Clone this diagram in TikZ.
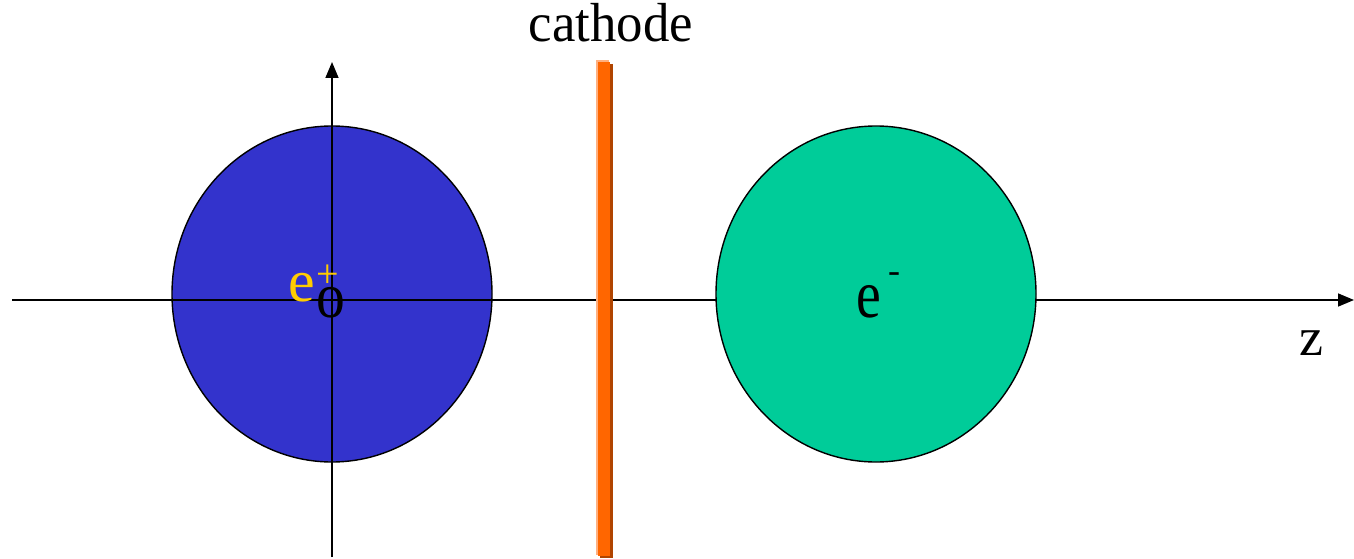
\documentclass[tikz,border=0pt]{standalone}
\usepackage{fontspec}
\setmainfont{Liberation Serif}
\usetikzlibrary{arrows.meta}
\definecolor{ballblue}{HTML}{3333CC}
\definecolor{ballgreen}{HTML}{00CC99}
\definecolor{cathorange}{HTML}{FF6600}
\definecolor{cathlight}{HTML}{FFB080}
\definecolor{cathdark}{HTML}{B04400}
\definecolor{posyellow}{HTML}{FFCC00}
\tikzset{
  axis/.style={line width=1.6pt,-{Triangle[length=16pt,width=13pt]}},
  ball/.style={draw=black,line width=1.4pt},
  big/.style={font=\fontsize{54}{60}\selectfont,inner sep=0pt}
}
\begin{document}
\begin{tikzpicture}[x=1pt,y=-1pt]
\useasboundingbox (0,0) rectangle (1354,559);
% blue ball (under axes)
\filldraw[ball,fill=ballblue] (332,294) ellipse[x radius=160,y radius=168];
\coordinate (hl) at (12,300);
\coordinate (hr) at (1354,300);
\coordinate (vb) at (332,557);
\coordinate (vt) at (332,62);
\draw[axis] (hl) -- (hr);
\draw[axis] (vb) -- (vt);
% green ball (over axis)
\filldraw[ball,fill=ballgreen] (876,294) ellipse[x radius=160,y radius=168];
% cathode
\fill[cathlight] (596,60) rectangle (609,555);
\fill[cathdark] (600,64) rectangle (613,558);
\fill[cathorange] (598,62) rectangle (610,556);
\node[big,anchor=base,xscale=0.96,font=\fontsize{55}{60}\selectfont] (cath) at (611,42) {cathode};
% labels
\node[big,anchor=base,text=posyellow,font=\fontsize{60}{66}\selectfont] (ep) at (302,301) {e};
\node[big,anchor=center,text=posyellow,font=\fontsize{40}{44}\selectfont] (plus) at (328,276) {+};
\node[big,anchor=base,xscale=0.9,font=\fontsize{64}{70}\selectfont] (orig) at (331,317) {o};
\node[big,anchor=base,xscale=0.82,font=\fontsize{68}{72}\selectfont] (em) at (869,317) {e};
\node[big,anchor=center,font=\fontsize{36}{40}\selectfont] (minus) at (894,278) {-};
\node[big,anchor=base] (z) at (1311,355) {z};
\end{tikzpicture}
\end{document}
